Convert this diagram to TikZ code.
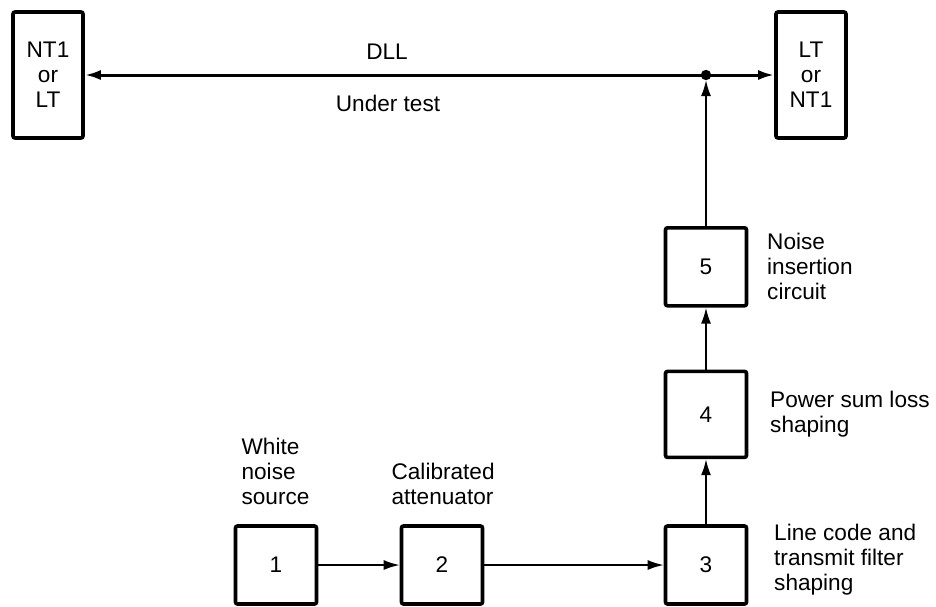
\documentclass[tikz,border=0pt]{standalone}
\usepackage{fontspec}
\setmainfont{Liberation Sans}
\usepackage{tikz}
\usetikzlibrary{arrows.meta, positioning}

\begin{document}
\begin{tikzpicture}[x=0.5pt, y=-0.5pt,
  blk/.style={draw, line width=1.8pt, rounded corners=1pt,
    minimum width=40.5pt, minimum height=39pt, inner sep=0pt,
    font=\fontsize{11.3}{12.5}\selectfont},
  term/.style={blk, minimum width=35pt, minimum height=63pt, align=center},
  lbl/.style={font=\fontsize{11.3}{12.5}\selectfont, align=left, inner sep=0pt},
  sig/.style={line width=0.9pt, -{Latex[length=8pt, width=5pt]}},
  bus/.style={sig, line width=1.5pt}
]
  \useasboundingbox (0,0) rectangle (936,606);

  % line under test
  \node[term] (near) at (48,75) {NT1\\or\\LT};
  \node[term] (far)  at (811,75) {LT\\or\\NT1};
  \coordinate (jn) at (706,75);
  \node[lbl] (dll) at (387,52) {DLL};
  \node[lbl] (undertest) at (388,103) {Under test};

  % noise path
  \node[blk] (b1) at (276,565) {1};
  \node[blk] (b2) at (442,565) {2};
  \node[blk] (b3) at (706,565) {3};
  \node[blk, minimum height=43pt, above=32.5pt of b3] (b4) {4};
  \node[blk, above=31pt of b4] (b5) {5};

  \node[lbl, above=9.5pt of b1.north west, anchor=south west, xshift=3.75pt] (src)
    {White\\noise\\source};
  \node[lbl, above=9.5pt of b2.north west, anchor=south west, xshift=-4.25pt] (att)
    {Calibrated\\attenuator};
  \node[lbl, right=12.75pt of b3, yshift=2.5pt] (lcode)
    {Line code and\\transmit filter\\shaping};
  \node[lbl, right=10.75pt of b4] (psum) {Power sum loss\\shaping};
  \node[lbl, right=9.25pt of b5] (ins) {Noise\\insertion\\circuit};

  \draw[sig] (b1) -- (b2);
  \draw[sig] (b2) -- (b3);
  \draw[sig] (b3) -- (b4);
  \draw[sig] (b4) -- (b5);
  \draw[sig, shorten >=2.5pt] (b5) -- (jn);
  \draw[bus] (jn) -- (near);
  \draw[bus] (jn) -- (far);
  \fill (jn) circle[radius=2.6pt];
\end{tikzpicture}
\end{document}
